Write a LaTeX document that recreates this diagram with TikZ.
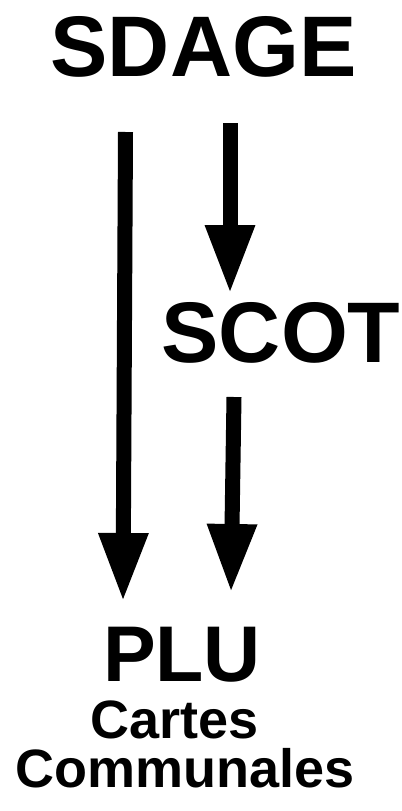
\documentclass[tikz,border=0pt]{standalone}
\usepackage{fontspec}
\setmainfont{Liberation Sans}
\usetikzlibrary{arrows.meta}
\begin{document}
\begin{tikzpicture}[x=1bp,y=-1bp,
  lbl/.style={inner sep=0pt,anchor=base,font=\bfseries},
  big/.style={lbl,font=\fontsize{86bp}{90bp}\selectfont\bfseries},
  mid/.style={lbl,font=\fontsize{79bp}{84bp}\selectfont\bfseries},
  small/.style={lbl,font=\fontsize{54bp}{58bp}\selectfont\bfseries},
  fat/.style={line width=15bp,-{Triangle[width=46bp,length=69bp]}}]
\useasboundingbox (0,0) rectangle (401,811);
\node[big] (sdage) at (203.5,77) {SDAGE};
\node[big] (scot) at (281,362) {SCOT};
\node[mid] (plu) at (182,681) {PLU};
\node[small] (cartes) at (175,738) {Cartes};
\node[small] (comm) at (185,787) {Communales};
\coordinate (a1s) at (125.5,132);
\coordinate (a1e) at (123,602);
\coordinate (a2s) at (230,123);
\coordinate (a2e) at (230,294);
\coordinate (a3s) at (234,397);
\coordinate (a3e) at (231,593);
\draw[fat] (a1s) -- (a1e);
\draw[fat] (a2s) -- (a2e);
\draw[fat] (a3s) -- (a3e);
\end{tikzpicture}
\end{document}
